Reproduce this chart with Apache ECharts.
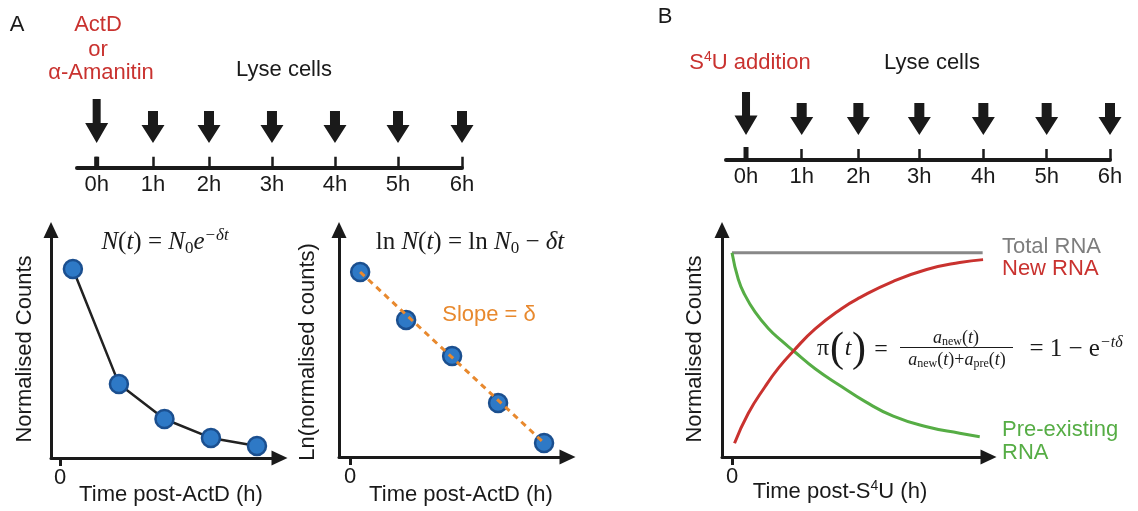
<!DOCTYPE html>
<html><head><meta charset="utf-8">
<script src="https://cdn.jsdelivr.net/npm/echarts@6/dist/echarts.min.js"></script>
<style>html,body{margin:0;padding:0;background:#fff}#c{width:1138px;height:511px}</style>
</head><body><div id="c"></div>
<script>
// ---------- data ----------
const timelineLabels = ['0h', '1h', '2h', '3h', '4h', '5h', '6h'];
const timelinePosA = [0, 0.925, 1.845, 2.879, 3.914, 4.949, 6];
const timelinePosB = [0, 0.918, 1.852, 2.857, 3.912, 4.956, 6];
const addTime = [0];

const decayTime = [0.28, 1.28, 2.27, 3.28, 4.28];
const decayCounts = [8.29, 3.25, 1.71, 0.88, 0.53];

const logTime = [0.22, 1.22, 2.22, 3.22, 4.22];
const logCounts = [8.15, 6.04, 4.45, 2.38, 0.62];
const fitTime = [0.22, 4.22];
const fitCounts = [8.15, 0.62];

const totalTime = [0, 6.0];
const totalRNA = [1.0, 1.0];
const preTime = [0, 0.15, 0.31, 0.55, 0.87, 1.19, 1.47, 1.99, 2.62, 3.18, 3.86, 4.66, 5.45, 5.93];
const preRNA = [1.0, 0.87, 0.792, 0.71, 0.629, 0.568, 0.52, 0.432, 0.345, 0.272, 0.2, 0.148, 0.116, 0.099];
const newTime = [0.06, 0.39, 0.79, 1.11, 1.47, 1.99, 2.62, 3.06, 3.86, 4.66, 5.45, 6.01];
const newRNA = [0.067, 0.214, 0.344, 0.435, 0.519, 0.627, 0.726, 0.78, 0.86, 0.918, 0.952, 0.966];

// ---------- styles ----------
const SANS = '"Liberation Sans", Arial, sans-serif';
const SERIF = '"Liberation Serif", "DejaVu Serif", serif';
const INK = '#1a1a1a';
const RED = '#c9322f';
const GREEN = '#56ad45';
const GRAY = '#888888';
const ORANGE = '#e8892e';
const BLUE = '#2e79c6';

const zip = (a, b) => a.map((v, i) => [v, b[i]]);
const smallArrow = 'path://M6.5,0L16.5,0L16.5,14L23,14L11.5,32L0,14L6.5,14Z';
const bigArrow = 'path://M7.5,0L15.5,0L15.5,24L23,24L11.5,44L0,24L7.5,24Z';

function nearestLabel(pos) {
  return function (v) {
    let best = 0;
    pos.forEach((p, i) => { if (Math.abs(p - v) < Math.abs(pos[best] - v)) best = i; });
    return timelineLabels[best];
  };
}

function timelineX(idx, min, pos) {
  return {
    gridIndex: idx, type: 'value', min: min, max: 6,
    axisLine: { show: true, onZero: false, lineStyle: { color: INK, width: 4 } },
    axisTick: { show: true, inside: true, length: 11, customValues: pos, lineStyle: { color: INK, width: 2.5 } },
    axisLabel: { show: true, customValues: pos, formatter: nearestLabel(pos), color: INK, fontSize: 22, fontFamily: SANS, margin: 6 },
    splitLine: { show: false }
  };
}
function hiddenY(idx, max) {
  return { gridIndex: idx, type: 'value', min: 0, max: max, show: false, splitLine: { show: false } };
}
function plotX(idx, min, max) {
  return {
    gridIndex: idx, type: 'value', min: min, max: max,
    axisLine: { show: true, onZero: false, symbol: ['none', 'triangle'], symbolSize: [15, 16], lineStyle: { color: INK, width: 3 } },
    axisTick: { show: true, inside: false, length: 8, customValues: [0], lineStyle: { color: INK, width: 3 } },
    axisLabel: { show: true, customValues: [0], color: INK, fontSize: 22, fontFamily: SANS, margin: 9 },
    splitLine: { show: false }
  };
}
function plotY(idx, max) {
  return {
    gridIndex: idx, type: 'value', min: 0, max: max,
    axisLine: { show: true, onZero: false, symbol: ['none', 'triangle'], symbolSize: [15, 16], lineStyle: { color: INK, width: 3 } },
    axisTick: { show: false }, axisLabel: { show: false }, splitLine: { show: false }
  };
}

function txt(x, y, text, opts) {
  opts = opts || {};
  return {
    type: 'text', x: x, y: y, rotation: opts.rot || 0, z: 100,
    style: Object.assign({
      text: text, fill: INK, fontSize: 22, fontFamily: SANS,
      align: 'center', verticalAlign: 'middle'
    }, opts.style || {})
  };
}

const eqRich = {
  i: { fontFamily: SERIF, fontStyle: 'italic', fontSize: 25, lineHeight: 30, fill: INK },
  r: { fontFamily: SERIF, fontSize: 25, lineHeight: 30, fill: INK },
  sub: { fontFamily: SERIF, fontSize: 17, lineHeight: 15, verticalAlign: 'bottom', fill: INK },
  sup: { fontFamily: SERIF, fontStyle: 'italic', fontSize: 17, lineHeight: 15, verticalAlign: 'top', fill: INK }
};
const fracRich = {
  i: { fontFamily: SERIF, fontStyle: 'italic', fontSize: 18, lineHeight: 20, fill: INK },
  r: { fontFamily: SERIF, fontSize: 18, lineHeight: 20, fill: INK },
  s: { fontFamily: SERIF, fontSize: 12, lineHeight: 10, verticalAlign: 'bottom', fill: INK }
};
const supRich = {
  n: { fontFamily: SANS, fontSize: 22, lineHeight: 26 },
  sp: { fontFamily: SANS, fontSize: 14, lineHeight: 12, verticalAlign: 'top' }
};

const graphics = [
  txt(17, 25, 'A'),
  txt(98, 25, 'ActD', { style: { fill: RED } }),
  txt(98, 50, 'or', { style: { fill: RED } }),
  txt(101, 73, 'α-Amanitin', { style: { fill: RED } }),
  txt(284, 70, 'Lyse cells'),
  txt(665, 17, 'B'),
  txt(750, 63, '{n|S}{sp|4}{n|U addition}', { style: { fill: RED, rich: supRich } }),
  txt(932, 63, 'Lyse cells'),

  txt(165, 242, '{i|N}{r|(}{i|t}{r|) = }{i|N}{sub|0}{i|e}{sup|−δt}', { style: { rich: eqRich } }),
  txt(470, 242, '{r|ln }{i|N}{r|(}{i|t}{r|) = ln }{i|N}{sub|0}{r| − }{i|δt}', { style: { rich: eqRich } }),
  txt(489, 315, 'Slope = δ', { style: { fill: ORANGE } }),

  txt(25, 349, 'Normalised Counts', { rot: Math.PI / 2 }),
  txt(171, 495, 'Time post-ActD (h)'),
  txt(308, 352, 'Ln(normalised counts)', { rot: Math.PI / 2 }),
  txt(461, 495, 'Time post-ActD (h)'),
  txt(695, 349, 'Normalised Counts', { rot: Math.PI / 2 }),
  txt(840, 492, '{n|Time post-S}{sp|4}{n|U (h)}', { style: { rich: supRich } }),

  txt(1002, 247, 'Total RNA', { style: { fill: '#7d7d7d', align: 'left' } }),
  txt(1002, 269, 'New RNA', { style: { fill: RED, align: 'left' } }),
  txt(1002, 430, 'Pre-existing', { style: { fill: GREEN, align: 'left' } }),
  txt(1002, 453, 'RNA', { style: { fill: GREEN, align: 'left' } }),

  // formula pi(t) = a_new / (a_new + a_pre) = 1 - e^{-t delta}
  txt(823, 349, 'π', { style: { fontFamily: SERIF, fontSize: 24 } }),
  txt(837, 350, '(', { style: { fontFamily: SERIF, fontSize: 42, fill: INK } }),
  txt(848, 349, 't', { style: { fontFamily: SERIF, fontStyle: 'italic', fontSize: 24 } }),
  txt(859, 350, ')', { style: { fontFamily: SERIF, fontSize: 42, fill: INK } }),
  txt(881, 350, '=', { style: { fontFamily: SERIF, fontSize: 24 } }),
  txt(956, 338, '{i|a}{s|new}{r|(}{i|t}{r|)}', { style: { rich: fracRich } }),
  { type: 'line', z: 100, shape: { x1: 900, y1: 347.5, x2: 1013, y2: 347.5 }, style: { stroke: INK, lineWidth: 1 } },
  txt(957, 360, '{i|a}{s|new}{r|(}{i|t}{r|)+}{i|a}{s|pre}{r|(}{i|t}{r|)}', { style: { rich: fracRich } }),
  txt(1076, 349, '{r|= 1 − e}{sup|−tδ}', { style: { rich: {
    r: { fontFamily: SERIF, fontSize: 25, lineHeight: 28, fill: INK },
    sup: { fontFamily: SERIF, fontStyle: 'italic', fontSize: 16, lineHeight: 14, verticalAlign: 'top', fill: INK }
  } } })
];

const solid = { color: INK, opacity: 1 };

const option = {
  backgroundColor: '#fff',
  animation: false,
  grid: [
    { left: 77, top: 87.7, width: 385, height: 80 },     // timeline A
    { left: 726, top: 80, width: 384, height: 80 },      // timeline B
    { left: 51, top: 230, width: 228.5, height: 228 },   // A left
    { left: 339, top: 230, width: 228.5, height: 227 },  // A right
    { left: 722, top: 230, width: 266.5, height: 227 }   // B
  ],
  xAxis: [
    timelineX(0, -0.323, timelinePosA),
    timelineX(1, -0.33, timelinePosB),
    plotX(2, -0.196, 4.77),
    plotX(3, -0.24, 4.73),
    plotX(4, -0.24, 6.14)
  ],
  yAxis: [
    hiddenY(0, 1), hiddenY(1, 1),
    plotY(2, 10), plotY(3, 10), plotY(4, 1.111)
  ],
  series: [
    // timeline A
    { type: 'scatter', xAxisIndex: 0, yAxisIndex: 0, clip: false, symbol: smallArrow, symbolSize: [23, 32], symbolOffset: [0, -40.7],
      itemStyle: solid, data: timelinePosA.slice(1).map(v => [v, 0]) },
    { type: 'scatter', xAxisIndex: 0, yAxisIndex: 0, clip: false, symbol: bigArrow, symbolSize: [23, 44], symbolOffset: [0, -46.7],
      itemStyle: solid, data: addTime.map(v => [v, 0]) },
    { type: 'scatter', xAxisIndex: 0, yAxisIndex: 0, clip: false, symbol: 'rect', symbolSize: [5, 11], symbolOffset: [0, -5.5],
      itemStyle: solid, data: addTime.map(v => [v, 0]) },
    // timeline B
    { type: 'scatter', xAxisIndex: 1, yAxisIndex: 1, clip: false, symbol: smallArrow, symbolSize: [23, 32], symbolOffset: [0, -41],
      itemStyle: solid, data: timelinePosB.slice(1).map(v => [v, 0]) },
    { type: 'scatter', xAxisIndex: 1, yAxisIndex: 1, clip: false, symbol: bigArrow, symbolSize: [23, 43], symbolOffset: [0, -46.5],
      itemStyle: solid, data: addTime.map(v => [v, 0]) },
    { type: 'scatter', xAxisIndex: 1, yAxisIndex: 1, clip: false, symbol: 'rect', symbolSize: [5, 13], symbolOffset: [0, -6.5],
      itemStyle: solid, data: addTime.map(v => [v, 0]) },
    // A left decay
    { type: 'line', xAxisIndex: 2, yAxisIndex: 2, data: zip(decayTime, decayCounts), symbol: 'circle', symbolSize: 18,
      lineStyle: { color: '#222', width: 2.5 },
      itemStyle: { color: BLUE, borderColor: '#1b4f8f', borderWidth: 2.5, opacity: 1 } },
    // A right log
    { type: 'scatter', xAxisIndex: 3, yAxisIndex: 3, data: zip(logTime, logCounts), symbol: 'circle', symbolSize: 18,
      itemStyle: { color: BLUE, borderColor: '#1b4f8f', borderWidth: 2.5, opacity: 1 }, z: 2 },
    { type: 'line', xAxisIndex: 3, yAxisIndex: 3, data: zip(fitTime, fitCounts), showSymbol: false, z: 3,
      lineStyle: { color: ORANGE, width: 3, type: [6, 5] } },
    // B curves
    { type: 'line', xAxisIndex: 4, yAxisIndex: 4, data: zip(totalTime, totalRNA), showSymbol: false,
      lineStyle: { color: GRAY, width: 3 } },
    { type: 'line', xAxisIndex: 4, yAxisIndex: 4, data: zip(preTime, preRNA), showSymbol: false, smooth: 0.5,
      lineStyle: { color: GREEN, width: 3 } },
    { type: 'line', xAxisIndex: 4, yAxisIndex: 4, data: zip(newTime, newRNA), showSymbol: false, smooth: 0.5,
      lineStyle: { color: RED, width: 3 } }
  ],
  graphic: graphics
};

const chart = echarts.init(document.getElementById('c'), null, { renderer: 'canvas' });
chart.setOption(option);
</script>
</body></html>
